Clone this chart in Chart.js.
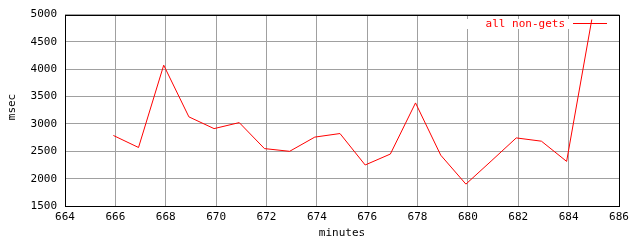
<!DOCTYPE html>
<html>
<head>
<meta charset="utf-8">
<script src="https://cdn.jsdelivr.net/npm/chart.js@4"></script>
<style>
  html, body { margin: 0; padding: 0; background: #fff; }
  #wrap { width: 640px; height: 240px; }
</style>
</head>
<body>
<div id="wrap"><canvas id="chart" width="640" height="240"></canvas></div>
<script>
// values
const minutes = [665.92, 666.92, 667.92, 668.92, 669.92, 670.92, 671.92, 672.92, 673.92, 674.92,
                 675.92, 676.92, 677.92, 678.92, 679.92, 680.92, 681.92, 682.92, 683.92, 684.92];
const msec = [2790, 2570, 4075, 3130, 2915, 3025, 2550, 2500, 2760, 2825,
              2250, 2450, 3385, 2430, 1900, 2320, 2745, 2685, 2316, 4910];
const seriesName = 'all non-gets';

const FONT = '"DejaVu Sans Mono", "Liberation Mono", monospace';

const gnuplotDecor = {
  id: 'gnuplotDecor',
  beforeDatasetsDraw(chart) {
    const { ctx, chartArea: a } = chart;
    ctx.save();
    // key box hides the grid behind it
    ctx.fillStyle = '#fff';
    ctx.fillRect(466, 19, 146, 10);
    // border
    ctx.strokeStyle = '#000';
    ctx.lineWidth = 1;
    ctx.strokeRect(Math.round(a.left) + 0.5, Math.round(a.top) + 0.5,
                   Math.round(a.right - a.left), Math.round(a.bottom - a.top));
    ctx.restore();
  },
  afterDatasetsDraw(chart) {
    const { ctx } = chart;
    ctx.save();
    ctx.font = '11px ' + FONT;
    ctx.fillStyle = '#ff0000';
    ctx.textAlign = 'right';
    ctx.textBaseline = 'middle';
    ctx.fillText(seriesName, 565, 24);
    ctx.fillRect(573, 23, 34, 1);
    // axis titles
    ctx.fillStyle = '#000';
    ctx.textAlign = 'center';
    ctx.fillText('minutes', 342, 233);
    ctx.translate(12, 107);
    ctx.rotate(-Math.PI / 2);
    ctx.fillText('msec', 0, 0);
    ctx.restore();
  }
};

new Chart(document.getElementById('chart'), {
  type: 'line',
  plugins: [gnuplotDecor],
  data: {
    datasets: [
      {
        label: seriesName,
        data: minutes.map((m, i) => ({ x: m, y: msec[i] })),
        borderColor: '#ff0000',
        borderWidth: 1,
        pointRadius: 0,
        tension: 0,
        fill: false,
      }
    ]
  },
  options: {
    responsive: false,
    animation: false,
    layout: { padding: { left: 0, right: 21, top: 13, bottom: 0 } },
    plugins: {
      legend: { display: false },
      title: { display: false },
      tooltip: { enabled: false },
    },
    scales: {
      x: {
        type: 'linear',
        min: 664,
        max: 686,
        afterFit(scale) { scale.height = 34; },
        ticks: {
          stepSize: 2,
          padding: 5,
          color: '#000',
          maxRotation: 0,
          font: { family: FONT, size: 11 },
          callback: v => String(v),
        },
        grid: { color: '#a0a0a0', drawTicks: false },
        border: { display: false },
      },
      y: {
        min: 1500,
        max: 5000,
        afterFit(scale) { scale.width = 65; },
        ticks: {
          stepSize: 500,
          padding: 8,
          color: '#000',
          font: { family: FONT, size: 11 },
          callback: v => String(v),
        },
        grid: { color: '#a0a0a0', drawTicks: false },
        border: { display: false },
      }
    }
  }
});
</script>
</body>
</html>
